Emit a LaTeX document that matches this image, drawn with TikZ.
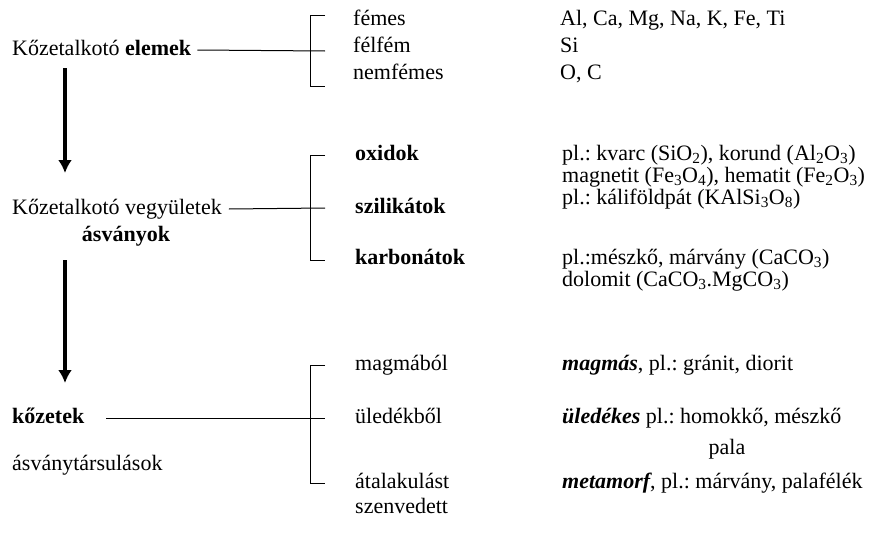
\documentclass[tikz,border=0pt]{standalone}
\usepackage{fontspec}
\setmainfont{Liberation Serif}
\usetikzlibrary{arrows.meta}
\frenchspacing

\begin{document}
\begin{tikzpicture}[x=1pt,y=-1pt,
  txt/.style={anchor=west,inner sep=0pt,text height=10pt,text depth=0pt,font=\fontsize{22}{26}\selectfont},
  kapocs/.style={line width=1pt}]
\useasboundingbox (0,0) rectangle (884,538);
% bal oszlop
\node[txt] (elemek) at (12,50) {Kőzetalkotó \textbf{elemek}};
\node[txt] (vegyuletek) at (12,209) {Kőzetalkotó vegyületek};
\node[txt,anchor=center] (asvanyok) at (126,236) {\textbf{ásványok}};
\node[txt] (kozetek) at (12,418) {\textbf{kőzetek}};
\node[txt] (tarsulasok) at (12,465) {ásványtársulások};
% középső oszlop
\node[txt] (femes) at (353,20) {fémes};
\node[txt] (felfem) at (353,47) {félfém};
\node[txt] (nemfemes) at (353,74) {nemfémes};
\node[txt] (oxidok) at (355,155) {\textbf{oxidok}};
\node[txt] (szilikatok) at (355,208) {\textbf{szilikátok}};
\node[txt] (karbonatok) at (355,259) {\textbf{karbonátok}};
\node[txt] (magmabol) at (355,365) {magmából};
\node[txt] (uledekbol) at (355,418) {üledékből};
\node[txt] (atalakulast) at (355,483) {átalakulást};
\node[txt] (szenvedett) at (355,508) {szenvedett};
% jobb oszlop
\node[txt] (femek) at (560,20) {Al, Ca, Mg, Na, K, Fe, Ti};
\node[txt] (si) at (560,47) {Si};
\node[txt] (oc) at (560,74) {O, C};
\node[txt] (kvarc) at (562,155) {pl.: kvarc (SiO\textsubscript{2}), korund (Al\textsubscript{2}O\textsubscript{3})};
\node[txt] (magnetit) at (562,177) {magnetit (Fe\textsubscript{3}O\textsubscript{4}), hematit (Fe\textsubscript{2}O\textsubscript{3})};
\node[txt] (kali) at (562,199) {pl.: káliföldpát (KAlSi\textsubscript{3}O\textsubscript{8})};
\node[txt] (meszko) at (562,259) {pl.:mészkő, márvány (CaCO\textsubscript{3})};
\node[txt] (dolomit) at (562,281) {dolomit (CaCO\textsubscript{3}.MgCO\textsubscript{3})};
\node[txt] (magmas) at (562,365) {{\bfseries\itshape magmás}, pl.: gránit, diorit};
\node[txt] (uledekes) at (562,418) {{\bfseries\itshape üledékes} pl.: homokkő, mészkő};
\node[txt,anchor=center] (pala) at (727,449) {pala};
\node[txt] (metamorf) at (562,483) {{\bfseries\itshape metamorf}, pl.: márvány, palafélék};
% nyilak
\coordinate (n1a) at (65,68);
\coordinate (n1b) at (65,173);
\coordinate (n2a) at (65,260);
\coordinate (n2b) at (65,383);
\draw [line width=4pt,-{Latex[length=13pt,width=14pt]}] (n1a)--(n1b);
\draw [line width=4pt,-{Latex[length=13pt,width=14pt]}] (n2a)--(n2b);
% kapcsok
\draw [kapocs] ([xshift=6pt]elemek.east)--(325,51);
\draw [kapocs] (325,15)--(310,15)--(310,86)--(325,86);
\draw [kapocs] ([xshift=7pt]vegyuletek.east)--(325,208);
\draw [kapocs] (325,155)--(310,155)--(310,260)--(325,260);
\draw [kapocs] ([xshift=22pt]kozetek.east)--(325,418);
\draw [kapocs] (325,365)--(310,365)--(310,483)--(325,483);
\end{tikzpicture}
\end{document}
